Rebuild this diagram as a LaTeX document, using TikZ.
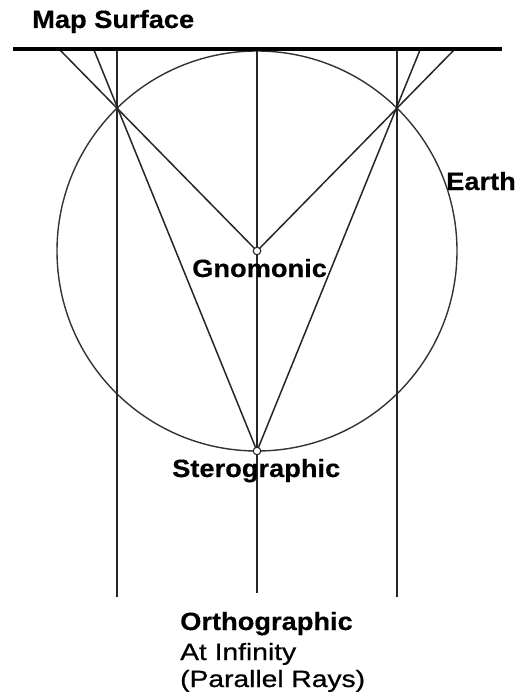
\documentclass[tikz,border=0pt]{standalone}
\usepackage{fontspec}
\setmainfont{Liberation Sans}
\newfontfamily\boldlbl[FakeStretch=1.09,FakeBold=0.4]{Liberation Sans}
\newfontfamily\reglbl[FakeStretch=1.2,FakeBold=0.8]{Liberation Sans}
\tikzset{
  ray/.style={line width=1.5pt, black!85},
  earth/.style={line width=1.4pt, black!80},
  mapline/.style={line width=4.5pt, black},
  pt/.style={circle, draw=black!85, fill=white, line width=1.1pt, inner sep=0pt, minimum size=7.5pt},
  blabel/.style={anchor=base west, inner sep=0pt, font=\boldlbl\bfseries\fontsize{25}{30}\selectfont},
  rlabel/.style={anchor=base west, inner sep=0pt, font=\reglbl\fontsize{23.5}{28}\selectfont},
}
\begin{document}
\begin{tikzpicture}[x=1pt,y=-1pt]
\useasboundingbox (0,0) rectangle (517,698);
% map surface endpoints
\coordinate (mapW) at (13,49);
\coordinate (mapE) at (502,49);
\coordinate (mL1) at (60,50);
\coordinate (mL2) at (94,50);
\coordinate (mL3) at (117,50);
\coordinate (mC) at (257,50);
\coordinate (mR3) at (397,50);
\coordinate (mR2) at (420,50);
\coordinate (mR1) at (454,50);
\coordinate (bL) at (117,597);
\coordinate (bC) at (257,593);
\coordinate (bR) at (397,597);
\coordinate (O) at (257,251);
% earth
\draw[earth] (O) circle (200);
% rays
\draw[ray] (mL3) -- (bL);
\draw[ray] (mC) -- (bC);
\draw[ray] (mR3) -- (bR);
\draw[ray] (mL1) -- (O);
\draw[ray] (mR1) -- (O);
\draw[ray] (mL2) -- (257,451);
\draw[ray] (mR2) -- (257,451);
% map surface
\draw[mapline] (mapW) -- (mapE);
% projection points
\node[pt] (G) at (257,251) {};
\node[pt] (S) at (257,451) {};
% labels
\node[blabel] (lmap) at (32,28) {Map Surface};
\node[blabel] (learth) at (446,190) {Earth};
\node[blabel] (lgnom) at (192,277) {Gnomonic};
\node[blabel] (lster) at (172,477) {Sterographic};
\node[blabel] (lorth) at (180,630) {Orthographic};
\node[rlabel] (linf) at (180,660) {At Infinity};
\node[rlabel] (lpar) at (180,687) {(Parallel Rays)};
\end{tikzpicture}
\end{document}
